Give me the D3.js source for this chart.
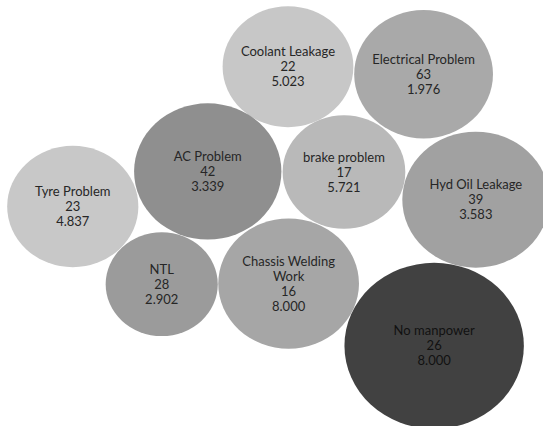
<!DOCTYPE html>
<html>
<head>
  <meta charset="utf-8">
  <script src="https://d3js.org/d3.v7.min.js"></script>
  <style>
    body { margin: 0; background: #fff; }
    svg { display: block; }
    .lbl { font-family: Lato, "Open Sans", sans-serif; font-size: 13px; text-anchor: middle; }
  </style>
</head>
<body>
<div id="chart"></div>
<script>
  // Data: failure category, number of occurrences, average value
  var categories = ["Coolant Leakage", "Electrical Problem", "AC Problem", "brake problem",
                    "Hyd Oil Leakage", "Tyre Problem", "NTL", "Chassis Welding Work", "No manpower"];
  var counts = [22, 63, 42, 17, 39, 23, 28, 16, 26];
  var values = [5.023, 1.976, 3.339, 5.721, 3.583, 4.837, 2.902, 8.000, 8.000];

  // Bubble area ~ count * value
  var data = categories.map(function(c, i) {
    return { name: c, count: counts[i], value: values[i], size: counts[i] * values[i] };
  });

  // Packed layout (in bubble units, same units as sqrt(size))
  var packPos = {
    "Coolant Leakage":      [46.3, 11.6],
    "Electrical Problem":   [68.1, 12.9],
    "AC Problem":           [33.4, 29.8],
    "brake problem":        [55.3, 29.9],
    "Hyd Oil Leakage":      [76.5, 34.7],
    "Tyre Problem":         [11.7, 35.9],
    "NTL":                  [26.0, 49.4],
    "Chassis Welding Work": [46.4, 49.3],
    "No manpower":          [69.8, 60.1]
  };

  var w = 543, h = 426;
  var unitX = 6.22, unitY = 6.22 * 0.925;

  var x = d3.scaleLinear().domain([0, w / unitX]).range([0, w]);
  var y = d3.scaleLinear().domain([0, h / unitY]).range([0, h]);
  var r = d3.scaleSqrt().domain([0, d3.max(data, function(d) { return d.size; })])
            .range([0, Math.sqrt(d3.max(data, function(d) { return d.size; })) * unitX]);

  var color = d3.scaleOrdinal()
    .domain(categories)
    .range(["#c7c7c7", "#a9a9a9", "#8f8f8f", "#b9b9b9", "#a1a1a1", "#c8c8c8", "#9b9b9b", "#a6a6a6", "#414141"]);

  var svg = d3.select("#chart").append("svg")
      .attr("width", w)
      .attr("height", h);

  var node = svg.selectAll("g.bubble")
      .data(data)
    .enter().append("g")
      .attr("class", "bubble")
      .attr("transform", function(d) {
        return "translate(" + x(packPos[d.name][0]) + "," + y(packPos[d.name][1]) + ")";
      });

  node.append("ellipse")
      .attr("rx", function(d) { return r(d.size); })
      .attr("ry", function(d) { return r(d.size) * unitY / unitX; })
      .attr("fill", function(d) { return color(d.name); });

  // Label lines: name (wrapped for long ones), count, value
  var lineH = 15;
  node.each(function(d) {
    var lines = d.name == "Chassis Welding Work" ? ["Chassis Welding", "Work"] : [d.name];
    lines = lines.concat([String(d.count), d.value.toFixed(3)]);
    var t = d3.select(this).append("text")
        .attr("class", "lbl")
        .attr("fill", d.name == "No manpower" ? "#111" : "#262626");
    var off = -(lines.length - 1) / 2 * lineH;
    lines.forEach(function(l, i) {
      t.append("tspan")
        .attr("x", 0)
        .attr("y", off + i * lineH)
        .attr("dy", "0.35em")
        .text(l);
    });
  });
</script>
</body>
</html>
